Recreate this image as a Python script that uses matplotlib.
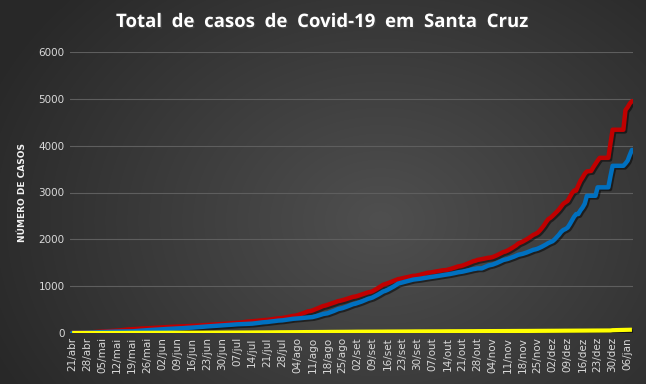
import numpy as np
import matplotlib
matplotlib.use("Agg")
import matplotlib.pyplot as plt
import matplotlib.patheffects as pe

# weekly tick labels (one every 7 points; one day is missing in late Aug)
tick_labels = ["21/abr", "28/abr", "05/mai", "12/mai", "19/mai", "26/mai",
               "02/jun", "09/jun", "16/jun", "23/jun", "30/jun", "07/jul",
               "14/jul", "21/jul", "28/jul", "04/ago", "11/ago", "18/ago",
               "25/ago", "02/set", "09/set", "16/set", "23/set", "30/set",
               "07/out", "14/out", "21/out", "28/out", "04/nov", "11/nov",
               "18/nov", "25/nov", "02/dez", "09/dez", "16/dez", "23/dez",
               "30/dez", "06/jan"]

# daily values, one row per week
casos = [
    5, 5, 6, 7, 8, 9, 9,
    10, 12, 15, 18, 22, 25, 27,
    30, 33, 37, 40, 44, 47, 48,
    50, 55, 60, 65, 70, 75, 77,
    80, 83, 87, 90, 94, 97, 98,
    100, 103, 106, 110, 113, 116, 117,
    120, 122, 125, 128, 130, 133, 133,
    135, 138, 140, 143, 146, 148, 148,
    150, 153, 156, 159, 162, 165, 166,
    170, 173, 176, 180, 183, 186, 187,
    190, 194, 198, 202, 207, 211, 212,
    215, 220, 226, 232, 238, 244, 246,
    250, 255, 260, 266, 272, 277, 278,
    280, 286, 292, 299, 306, 313, 315,
    320, 328, 337, 346, 356, 366, 370,
    380, 394, 410, 426, 444, 462, 468,
    480, 498, 516, 536, 556, 576, 585,
    600, 615, 630, 645, 662, 680, 688,
    700, 713, 727, 741, 757, 772, 778,
    790, 805, 820, 836, 852, 868, 875,
    890, 915, 942, 970, 1000, 1030, 1045,
    1060, 1078, 1096, 1114, 1132, 1150, 1158,
    1170, 1180, 1190, 1200, 1210, 1220, 1222,
    1230, 1240, 1252, 1264, 1276, 1288, 1292,
    1300, 1308, 1316, 1324, 1332, 1340, 1342,
    1350, 1362, 1376, 1390, 1406, 1422, 1428,
    1440, 1456, 1474, 1492, 1512, 1532, 1542,
    1560, 1568, 1576, 1586, 1596, 1606, 1610,
    1620, 1638, 1658, 1680, 1704, 1728, 1740,
    1760, 1785, 1812, 1840, 1870, 1910, 1930,
    1950, 1975, 2002, 2030, 2062, 2095, 2115,
    2140, 2185, 2240, 2300, 2370, 2430, 2460,
    2500, 2545, 2590, 2640, 2700, 2760, 2790,
    2820, 2900, 2980, 3040, 3040, 3150, 3250,
    3320, 3400, 3450, 3455, 3460, 3540, 3610,
    3680, 3740, 3740, 3740, 3740, 3740, 4050,
    4340, 4340, 4340, 4340, 4340, 4340, 4760,
    4820, 4900, 4950,
]

recuperados = [
    2, 2, 3, 3, 4, 5, 5,
    6, 8, 10, 12, 14, 16, 18,
    20, 22, 24, 26, 28, 30, 30,
    31, 32, 33, 33, 34, 34, 35,
    35, 38, 42, 46, 50, 55, 58,
    60, 63, 66, 70, 73, 76, 78,
    80, 82, 85, 88, 90, 93, 94,
    95, 98, 101, 104, 108, 111, 112,
    115, 118, 122, 126, 130, 134, 136,
    140, 143, 146, 150, 153, 156, 158,
    160, 163, 167, 171, 175, 179, 181,
    185, 187, 190, 192, 195, 197, 198,
    200, 205, 210, 216, 222, 228, 231,
    235, 240, 246, 252, 258, 264, 267,
    270, 276, 282, 289, 296, 303, 306,
    310, 314, 318, 323, 328, 333, 336,
    340, 350, 362, 375, 390, 405, 412,
    420, 436, 452, 470, 490, 510, 520,
    530, 545, 562, 580, 598, 616, 625,
    640, 656, 672, 690, 710, 730, 742,
    757, 780, 805, 830, 858, 885, 900,
    920, 945, 970, 995, 1025, 1055, 1068,
    1080, 1092, 1104, 1116, 1128, 1140, 1145,
    1150, 1157, 1164, 1172, 1180, 1188, 1194,
    1200, 1207, 1214, 1222, 1230, 1238, 1244,
    1250, 1258, 1266, 1276, 1286, 1296, 1302,
    1310, 1320, 1330, 1340, 1352, 1364, 1370,
    1380, 1380, 1380, 1400, 1420, 1440, 1450,
    1460, 1476, 1494, 1514, 1536, 1558, 1568,
    1580, 1596, 1612, 1630, 1650, 1670, 1680,
    1690, 1705, 1720, 1738, 1756, 1776, 1786,
    1800, 1820, 1842, 1866, 1892, 1920, 1940,
    1960, 2000, 2050, 2100, 2160, 2200, 2220,
    2250, 2320, 2400, 2480, 2540, 2540, 2620,
    2680, 2760, 2930, 2930, 2930, 2930, 2930,
    3110, 3110, 3110, 3110, 3110, 3110, 3350,
    3570, 3570, 3570, 3570, 3570, 3570, 3620,
    3680, 3800, 3910,
]

obitos = [
    0, 0, 0, 0, 0, 0, 0,
    0, 0, 0, 1, 1, 1, 1,
    1, 1, 1, 1, 1, 2, 2,
    2, 2, 2, 2, 3, 3, 3,
    3, 3, 3, 4, 4, 4, 4,
    4, 4, 5, 5, 5, 5, 5,
    5, 5, 5, 6, 6, 6, 6,
    6, 6, 6, 6, 7, 7, 7,
    7, 7, 7, 7, 8, 8, 8,
    8, 8, 8, 8, 9, 9, 9,
    9, 9, 9, 10, 10, 10, 10,
    10, 10, 11, 11, 11, 11, 12,
    12, 12, 12, 13, 13, 13, 13,
    14, 14, 14, 15, 15, 15, 16,
    16, 16, 17, 17, 17, 18, 18,
    18, 19, 19, 19, 20, 20, 20,
    21, 21, 21, 22, 22, 22, 23,
    23, 23, 24, 24, 24, 25, 25,
    25, 26, 26, 26, 27, 27, 27,
    28, 28, 28, 28, 29, 29, 29,
    29, 30, 30, 30, 30, 31, 31,
    31, 31, 32, 32, 32, 32, 33,
    33, 33, 33, 33, 34, 34, 34,
    34, 34, 35, 35, 35, 35, 35,
    36, 36, 36, 36, 36, 37, 37,
    37, 37, 37, 38, 38, 38, 38,
    38, 39, 39, 39, 39, 39, 40,
    40, 40, 40, 40, 41, 41, 41,
    41, 41, 42, 42, 42, 42, 42,
    43, 43, 43, 43, 44, 44, 44,
    44, 44, 45, 45, 45, 45, 46,
    46, 46, 46, 47, 47, 47, 47,
    48, 48, 48, 48, 49, 49, 49,
    49, 50, 50, 50, 50, 51, 51,
    51, 51, 52, 52, 52, 52, 53,
    53, 53, 53, 54, 54, 54, 54,
    60, 62, 63, 64, 65, 66, 67,
    68, 69, 70,
]

x = np.arange(len(casos))

fig = plt.figure(figsize=(6.46, 3.84), dpi=100)

# radial gradient background, like the Excel dark theme
bg = fig.add_axes([0, 0, 1, 1], zorder=0)
yy, xx = np.mgrid[0:384, 0:646]
r = np.sqrt(((xx - 380) / 420.0) ** 2 + ((yy - 220) / 330.0) ** 2)
r = np.clip(r, 0, 1)
shade = 0.31 - 0.15 * r
bg.imshow(np.dstack([shade, shade, shade]), aspect="auto", extent=[0, 1, 0, 1])
bg.axis("off")

ax = fig.add_axes([70 / 646, 1 - 333 / 384, 563 / 646, 281 / 384], zorder=1)
ax.patch.set_alpha(0)

shadow = [pe.SimpleLineShadow(offset=(1.2, -1.2), shadow_color="black", alpha=0.5),
          pe.Normal()]
ax.plot(x, casos, color="#c00000", lw=3.2, solid_capstyle="round",
        path_effects=shadow, zorder=3)
ax.plot(x, recuperados, color="#0070c0", lw=3.2, solid_capstyle="round",
        path_effects=shadow, zorder=4)
ax.plot(x, obitos, color="#ffff00", lw=3, solid_capstyle="butt",
        path_effects=shadow, zorder=5)

ax.set_ylim(0, 6000)
ax.set_xlim(-1, 261.5)
ax.set_yticks(range(0, 6001, 1000))
ax.set_xticks(range(0, 7 * len(tick_labels), 7))
ax.set_xticklabels(tick_labels, rotation=90)
for yv in range(1000, 6001, 1000):
    ax.axhline(yv, color="#5e5e5e", lw=0.8, zorder=1)

for s in ax.spines.values():
    s.set_visible(False)
ax.tick_params(length=0, colors="#d9d9d9", labelsize=7.5, pad=4)
ax.tick_params(axis="x", pad=3)

ax.set_ylabel("NÚMERO DE CASOS", color="#f2f2f2", fontsize=6.5,
              fontweight="bold", labelpad=8)

fig.text(0.5, 1 - 22 / 384, "Total  de  casos  de  Covid-19  em  Santa  Cruz",
         ha="center", va="center", color="white", fontsize=13.4,
         fontweight="bold", family="Open Sans",
         path_effects=[pe.withSimplePatchShadow(offset=(1, -1), alpha=0.6)])

fig.savefig("out.png", dpi=100, facecolor="#2b2b2b")
